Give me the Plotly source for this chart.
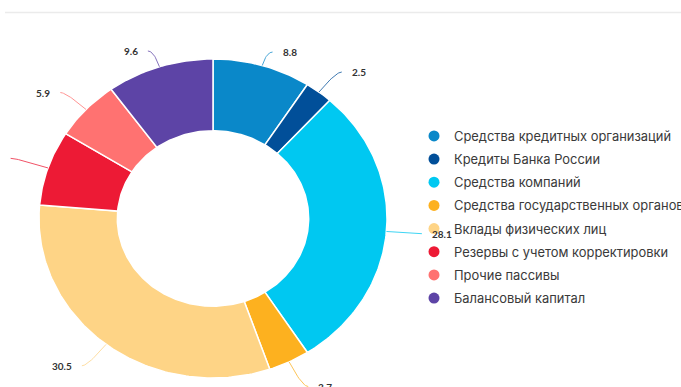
import numpy as np
import plotly.graph_objects as go

# Liabilities structure, %
categories = [
    "Средства кредитных организаций",
    "Кредиты Банка России",
    "Средства компаний",
    "Средства государственных органов",
    "Вклады физических лиц",
    "Резервы с учетом корректировки",
    "Прочие пассивы",
    "Балансовый капитал",
]
values = [8.8, 2.5, 28.1, 3.7, 30.5, 7.3, 5.9, 9.6]

colors = ["#0a88c9", "#014f99", "#00c8f1", "#fdb11f",
          "#fed486", "#ed1a35", "#ff7271", "#5d44a6"]

# donut geometry (axis units: outer radius = 1)
HOLE = 0.55
CX, CY = 213, 218.5          # centre in pixels
RX, RY = 174, 159.5          # outer radius in pixels (horizontal / vertical)
W, H = 681, 387
reach = [1.088, 1.158, 1.17, 1.172, 1.17, 1.19, 1.155, 1.104]  # connector length per slice
label_gap = [8, 8, 8, 8, 8, 20, 8, 8]                           # px between connector and label

total = sum(values)
cum = np.concatenate([[0.0], np.cumsum(values)])

fig = go.Figure()
annotations = []

for i, (cat, v, c) in enumerate(zip(categories, values, colors)):
    a0 = cum[i] / total * 2 * np.pi
    a1 = cum[i + 1] / total * 2 * np.pi
    n = max(int(np.degrees(a1 - a0)) + 2, 4)
    t = np.linspace(a0, a1, n)
    xo, yo = np.sin(t), np.cos(t)
    xs = np.concatenate([xo, HOLE * xo[::-1], xo[:1]])
    ys = np.concatenate([yo, HOLE * yo[::-1], yo[:1]])
    fig.add_trace(go.Scatter(
        x=xs, y=ys, mode="lines", fill="toself", fillcolor=c,
        line=dict(color="white", width=1.5),
        hoveron="fills", hoverinfo="text", text=f"{cat}: {v:.1f}",
        showlegend=False,
    ))

    # curved connector: leaves the slice radially, ends horizontally
    mid = (a0 + a1) / 2
    d = np.array([np.sin(mid), np.cos(mid)])
    side = 1.0 if d[0] >= 0 else -1.0
    p0 = d * 1.0
    q = d * reach[i]
    e = q + np.array([side * 6 / RX, 0.0])
    s = np.linspace(0, 1, 20)[:, None]
    curve = (1 - s) ** 2 * p0 + 2 * (1 - s) * s * q + s ** 2 * e
    fig.add_trace(go.Scatter(
        x=curve[:, 0], y=curve[:, 1], mode="lines",
        line=dict(color=c, width=1), opacity=0.75,
        hoverinfo="skip", showlegend=False,
    ))
    annotations.append(dict(
        x=e[0] + side * label_gap[i] / RX, y=e[1], xref="x", yref="y",
        text=f"{v:.1f}", showarrow=False,
        xanchor="left" if side > 0 else "right", yanchor="middle",
        font=dict(family="Lato", size=10, color="#333333", weight="bold"),
    ))

# legend entries
for cat, c in zip(categories, colors):
    fig.add_trace(go.Scatter(
        x=[None], y=[None], mode="markers", name=cat, legendgroup=cat,
        marker=dict(color=c, size=11, symbol="circle"),
    ))

fig.update_layout(
    width=W, height=H,
    margin=dict(l=0, r=0, t=0, b=0, autoexpand=False),
    paper_bgcolor="white", plot_bgcolor="white",
    xaxis=dict(range=[-CX / RX, (W - CX) / RX], visible=False, fixedrange=True),
    yaxis=dict(range=[-(H - CY) / RY, CY / RY], visible=False, fixedrange=True),
    showlegend=True,
    legend=dict(
        x=414 / W, y=1 - 121 / H, xanchor="left", yanchor="top",
        font=dict(family="Inter", size=12.9, color="#3a3a3a"),
        tracegroupgap=3.4, bgcolor="rgba(0,0,0,0)", itemclick=False,
    ),
    annotations=annotations,
    shapes=[dict(type="line", xref="paper", yref="paper",
                 x0=5 / W, x1=1, y0=1 - 12.5 / H, y1=1 - 12.5 / H,
                 line=dict(color="#ebebeb", width=1.5))],
)

fig.write_html("out.html")
